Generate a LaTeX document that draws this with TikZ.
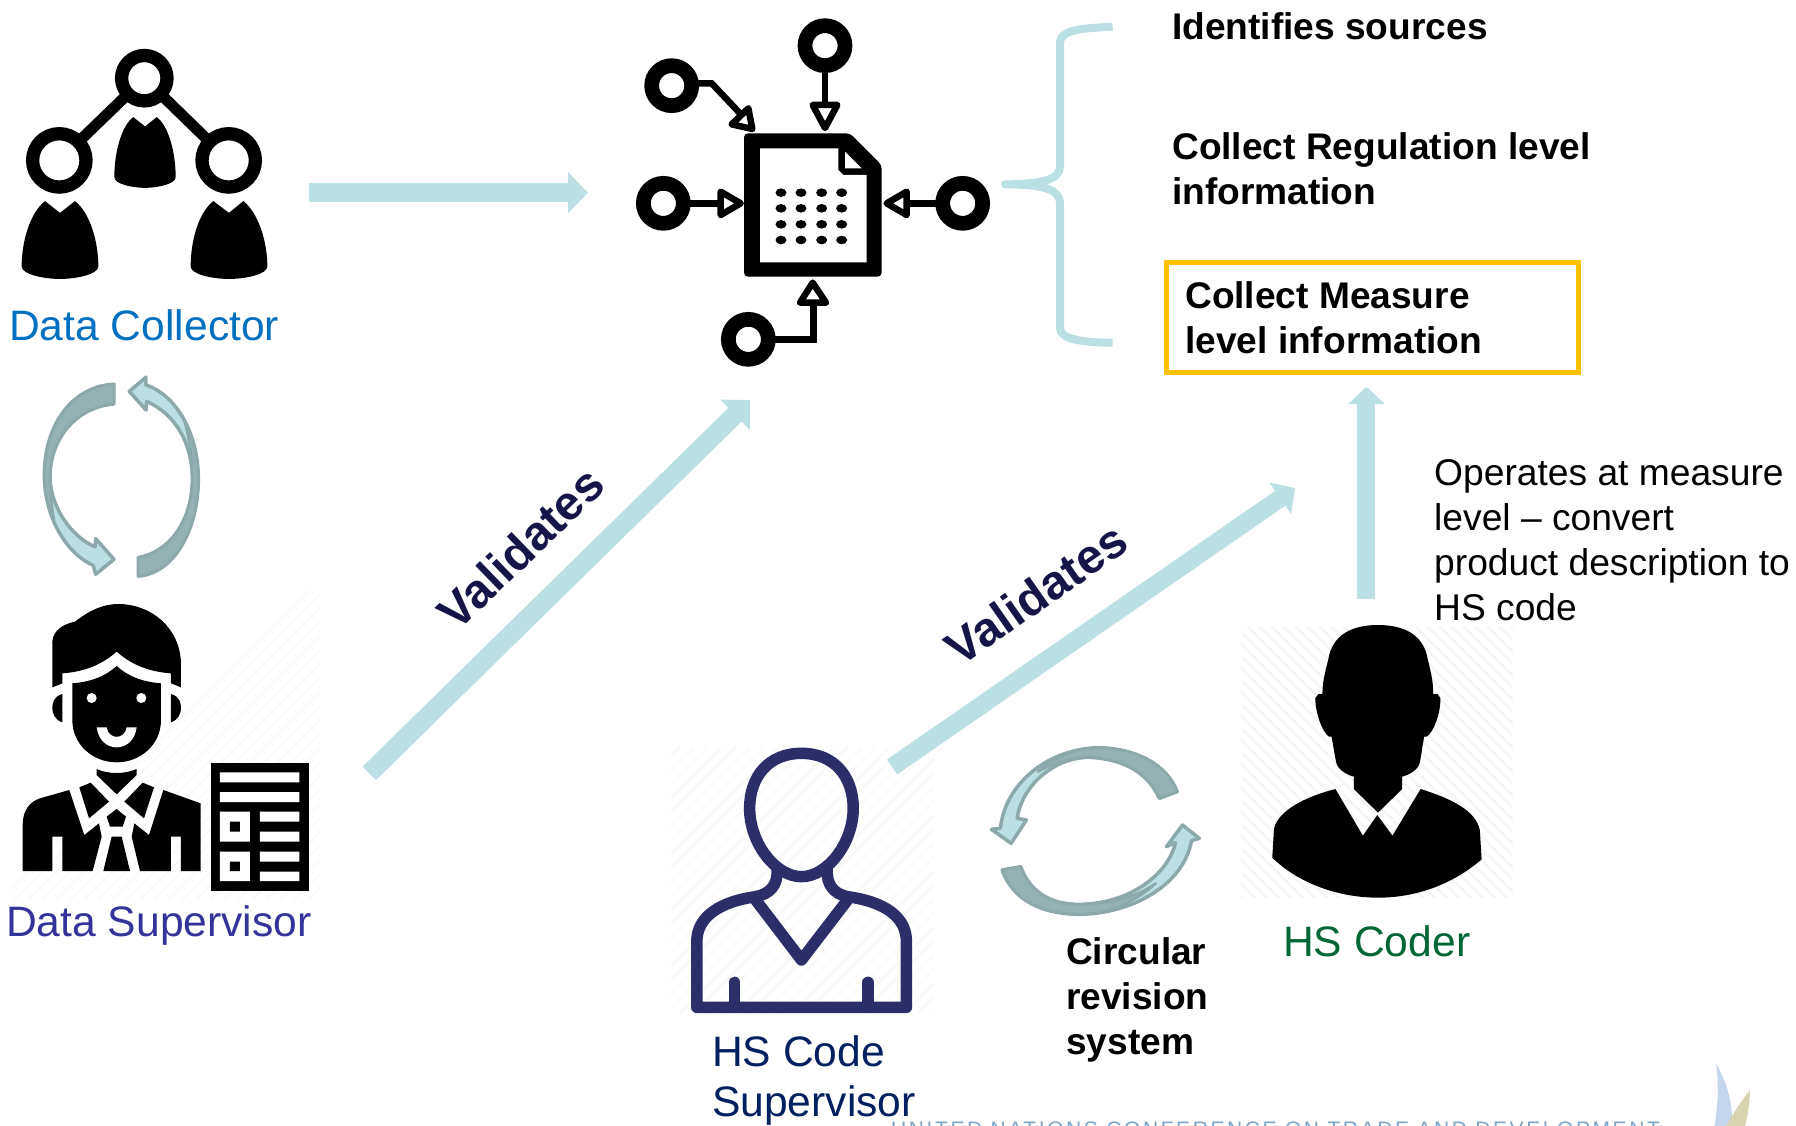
\documentclass[tikz,border=0pt]{standalone}
\usepackage{fontspec}
\setmainfont{Liberation Sans}
\usetikzlibrary{arrows.meta}
\definecolor{tealarrow}{HTML}{BBE0E3}
\definecolor{cycleedge}{HTML}{8CA8AB}
\definecolor{cycletail}{HTML}{95B1B4}
\definecolor{navyicon}{HTML}{2C2E69}
\definecolor{labelnavy}{HTML}{15154A}
\definecolor{hatchgrey}{HTML}{F6F6F6}
\tikzset{
  blockarrow/.style={draw=tealarrow,line width=#1},
  plain37/.style={inner sep=0pt,anchor=base west,align=left,font=\fontsize{37.2}{45}\selectfont},
  bold37/.style={inner sep=0pt,anchor=base west,align=left,font=\fontsize{37.1}{45}\selectfont\bfseries},
  role/.style={inner sep=0pt,anchor=base west,align=left,font=\fontsize{42.6}{50}\selectfont},
  validates/.style={inner sep=0pt,text=labelnavy,font=\fontsize{48}{50}\selectfont\bfseries},
  ring/.style={draw=black,fill=white,line width=#1},
  linkline/.style={draw=black,line width=6.5pt},
  opentri/.style={draw=black,fill=white,line width=6.5pt,line join=round},
  cyclebase/.style={fill=tealarrow,draw=cycleedge,line width=3.5pt,line join=round},
  cyclegrey/.style={fill=cycletail,draw=cycleedge,line width=2.5pt,line join=round},
  navyline/.style={draw=navyicon,line width=11.5pt,line cap=round,line join=round},
  zoomA/.style={shift={(0,20)},x=0.33333pt,y=-0.35714pt},
  zoomB/.style={shift={(0,580)},x=0.33333pt,y=-0.33333pt},
  zoomC/.style={shift={(620,0)},x=0.33333pt,y=-0.33333pt},
  zoomD/.style={shift={(670,720)},x=0.35714pt,y=-0.33333pt},
  zoomE/.style={shift={(1230,600)},x=0.36101pt,y=-0.33333pt},
}
\begin{document}
\begin{tikzpicture}[x=1pt,y=-1pt]
\useasboundingbox (0,0) rectangle (1796,1126);
\fill[white] (0,0) rectangle (1796,1126);
\begin{scope}
\clip (0,0) rectangle (1796,1126);

% faint hatching behind the portraits
\begin{scope}
\clip (10,590) rectangle (320,900);
\foreach \k in {0,14,...,640} \draw[hatchgrey,line width=1pt] (\k,900) -- ++(320,-320);
\end{scope}
\begin{scope}
\clip (670,747) rectangle (934,1013);
\foreach \k in {400,414,...,1000} \draw[hatchgrey,line width=1pt] (\k,1013) -- ++(280,-280);
\end{scope}
\begin{scope}
\clip (1241,627) rectangle (1513,897);
\foreach \k in {960,972,...,1520} \draw[hatchgrey,line width=2.5pt] (\k,627) -- ++(280,280);
\end{scope}

% Data Collector icon
\coordinate (ringT) at (144.3,78.2);
\coordinate (ringL) at (59.3,160.4);
\coordinate (ringR) at (228.7,160.4);
\draw[line width=11pt] (ringT) -- (ringL) (ringT) -- (ringR);
\draw[ring=13.3pt] (ringT) circle[radius=22.7pt];
\draw[ring=13.3pt] (ringL) circle[radius=26.7pt];
\draw[ring=13.3pt] (ringR) circle[radius=26.7pt];
\begin{scope}[zoomA]
\fill[black] (400,272) -- (435,298) -- (470,272) .. controls (505,295) and (527,370) .. (527,440) .. controls (527,460) and (470,470) .. (435,470) .. controls (400,470) and (343,460) .. (343,440) .. controls (343,370) and (365,295) .. (400,272) -- cycle;
\fill[black] (135,507) -- (180,540) -- (225,507) .. controls (270,540) and (295,620) .. (295,690) .. controls (295,712) and (230,725) .. (180,725) .. controls (130,725) and (65,712) .. (65,690) .. controls (65,620) and (90,540) .. (135,507) -- cycle;
\fill[black] (640,507) -- (687,540) -- (730,507) .. controls (775,540) and (802,620) .. (802,690) .. controls (802,712) and (737,725) .. (687,725) .. controls (637,725) and (572,712) .. (572,690) .. controls (572,620) and (595,540) .. (640,507) -- cycle;
% cycle arrows, left
\path[cyclebase] (342,1020) .. controls (220,1025) and (133,1130) .. (133,1275) .. controls (133,1380) and (190,1490) .. (280,1527) -- (287,1552) -- (342,1510) -- (287,1452) -- (285,1475) .. controls (220,1450) and (152,1370) .. (150,1280) .. controls (150,1180) and (220,1085) .. (342,1075) -- cycle;
\path[cyclegrey] (342,1020) .. controls (220,1025) and (133,1130) .. (133,1275) .. controls (133,1320) and (142,1360) .. (162,1400) .. controls (155,1360) and (150,1320) .. (150,1280) .. controls (150,1180) and (220,1085) .. (342,1075) -- cycle;
\path[cyclebase] (415,1505) .. controls (510,1490) and (577,1400) .. (577,1285) .. controls (577,1190) and (530,1105) .. (440,1068) -- (438,1092) -- (388,1040) -- (438,1000) -- (438,1022) .. controls (530,1050) and (595,1160) .. (595,1285) .. controls (595,1430) and (520,1550) .. (415,1557) -- cycle;
\path[cyclegrey] (415,1505) .. controls (510,1490) and (577,1400) .. (577,1285) .. controls (577,1230) and (568,1170) .. (553,1122) .. controls (580,1170) and (595,1220) .. (595,1285) .. controls (595,1430) and (520,1550) .. (415,1557) -- cycle;
\end{scope}

% Data Supervisor icon
\begin{scope}[zoomB]
\fill[black] (157,322) -- (157,185) .. controls (160,150) and (190,132) .. (225,125) .. controls (270,90) and (310,72) .. (355,72) .. controls (450,72) and (540,140) .. (543,250) -- (543,322) -- (513,310) -- (513,280) .. controls (440,275) and (390,250) .. (350,215) .. controls (310,250) and (260,275) .. (187,280) -- (187,310) -- cycle;
\fill[black] (217,310) .. controls (280,305) and (320,285) .. (350,258) .. controls (380,285) and (420,305) .. (483,310) -- (483,420) .. controls (483,495) and (420,547) .. (350,547) .. controls (280,547) and (217,495) .. (217,420) -- cycle;
\fill[black] (187,342) .. controls (160,350) and (157,370) .. (157,385) .. controls (157,400) and (165,420) .. (187,427) -- cycle;
\fill[black] (513,342) .. controls (540,350) and (543,370) .. (543,385) .. controls (543,400) and (535,420) .. (513,427) -- cycle;
\fill[white] (275,354) circle[radius=5pt] (424,354) circle[radius=5pt];
\fill[white] (290,442) -- (320,442) .. controls (325,480) and (375,480) .. (380,442) -- (410,442) .. controls (405,480) and (380,502) .. (350,502) .. controls (320,502) and (295,480) .. (290,442) -- cycle;
\fill[black] (290,567) .. controls (325,583) and (375,583) .. (410,567) -- (410,585) -- (350,643) -- (290,585) -- cycle;
\fill[black] (238,622) -- (272,608) -- (327,665) -- (267,715) -- cycle;
\fill[black] (462,622) -- (428,608) -- (373,665) -- (432,715) -- cycle;
\fill[black] (350,687) -- (378,710) -- (368,740) -- (330,740) -- (320,710) -- cycle;
\fill[black] (335,770) -- (365,770) -- (390,873) -- (310,873) -- cycle;
\fill[black] (68,873) -- (68,735) .. controls (68,690) and (90,665) .. (120,655) -- (208,630) -- (253,765) -- (297,730) -- (305,770) -- (278,873) -- (187,873) -- (187,770) -- (157,770) -- (157,873) -- cycle;
\fill[black] (602,873) -- (602,670) -- (490,630) -- (447,765) -- (403,730) -- (395,770) -- (420,873) -- (513,873) -- (513,770) -- (543,770) -- (543,873) -- cycle;
\fill[black] (632,548) rectangle (928,933);
\fill[white] (660,577) rectangle (898,607) (660,636) rectangle (898,666)
 (660,695) rectangle (750,785) (780,695) rectangle (898,725) (780,755) rectangle (898,785)
 (660,815) rectangle (750,903) (780,815) rectangle (898,845) (780,875) rectangle (898,903);
\fill[black] (690,725) rectangle (720,755) (690,845) rectangle (720,873);
\end{scope}

% central document icon
\begin{scope}[zoomC]
\draw[linkline] (615,137) -- (615,315);
\draw[linkline] (130,610) -- (298,610);
\draw[linkline] (1028,610) -- (862,610);
\draw[linkline] (385,1018) -- (580,1018) -- (580,915);
\draw[linkline] (155,250) -- (275,250) -- (360,340);
\draw[ring=14.7pt] (155,257) circle[radius=20pt];
\draw[ring=14.7pt] (615,137) circle[radius=20pt];
\draw[ring=14.7pt] (130,610) circle[radius=20pt];
\draw[ring=14.7pt] (1028,610) circle[radius=20pt];
\draw[ring=14.7pt] (385,1018) circle[radius=20pt];
\path[opentri] (578,315) -- (652,315) -- (615,384) -- cycle;
\path[opentri] (302,575) -- (302,645) -- (362,610) -- cycle;
\path[opentri] (860,575) -- (860,645) -- (800,610) -- cycle;
\path[opentri] (540,908) -- (618,908) -- (578,848) -- cycle;
\path[opentri] (385,325) -- (335,373) -- (397,387) -- cycle;
\fill[black,rounded corners=4pt] (372,400) -- (690,400) -- (785,495) -- (785,830) -- (372,830) -- cycle;
\fill[white] (420,445) -- (655,445) -- (655,510) -- (670,525) -- (740,525) -- (740,787) -- (420,787) -- cycle;
\fill[white] (675,455) -- (725,505) -- (675,505) -- cycle;
\foreach \dx in {483,543,605,665}
  \foreach \dy in {578,625,673,720}
    \fill[black] (\dx,\dy) ellipse[x radius=5.5pt,y radius=4.3pt];
% brace
\draw[tealarrow,line width=8pt,line join=round] (1478,80) .. controls (1400,85) and (1320,85) .. (1320,130) -- (1320,500) .. controls (1320,540) and (1260,553) .. (1155,553) .. controls (1260,553) and (1320,565) .. (1320,610) -- (1320,985) .. controls (1320,1020) and (1400,1028) .. (1478,1028);
\end{scope}

% HS Code Supervisor icon and cycle arrows
\begin{scope}[zoomD]
\path[navyline] (368,100) .. controls (460,100) and (513,170) .. (513,265) .. controls (513,370) and (440,470) .. (368,470) .. controls (296,470) and (223,370) .. (223,265) .. controls (223,170) and (276,100) .. (368,100) -- cycle;
\path[navyline] (300,450) .. controls (302,495) and (280,522) .. (240,530) .. controls (140,545) and (75,590) .. (75,665) -- (75,862) -- (662,862) -- (662,665) .. controls (662,590) and (600,545) .. (497,530) .. controls (460,522) and (438,495) .. (440,450);
\path[navyline] (240,540) -- (368,720) -- (497,540);
\path[navyline] (181,787) -- (181,862);
\path[navyline] (555,787) -- (555,862);
\path[cyclebase] (1420,215) .. controls (1390,130) and (1300,85) .. (1200,83) .. controls (1070,85) and (940,180) .. (925,325) -- (900,328) -- (955,370) -- (998,300) -- (972,295) .. controls (985,200) and (1070,115) .. (1170,112) .. controls (1270,115) and (1340,160) .. (1370,235) -- cycle;
\path[cyclegrey] (1420,215) .. controls (1390,130) and (1300,85) .. (1200,83) .. controls (1130,85) and (1070,115) .. (1030,155) .. controls (1075,130) and (1120,112) .. (1170,112) .. controls (1270,115) and (1340,160) .. (1370,235) -- cycle;
\path[cyclebase] (930,450) .. controls (960,540) and (1040,583) .. (1150,583) .. controls (1300,580) and (1440,490) .. (1460,362) -- (1482,355) -- (1435,315) -- (1390,380) -- (1415,368) .. controls (1400,450) and (1300,550) .. (1150,553) .. controls (1060,555) and (1005,510) .. (982,440) -- cycle;
\path[cyclegrey] (930,450) .. controls (960,540) and (1040,583) .. (1150,583) .. controls (1220,582) and (1300,550) .. (1360,490) .. controls (1310,530) and (1230,552) .. (1150,553) .. controls (1060,555) and (1005,510) .. (982,440) -- cycle;
\end{scope}

% HS Coder icon
\begin{scope}[zoomE]
\fill[black] (410,75) .. controls (500,75) and (540,120) .. (548,180) .. controls (558,220) and (563,250) .. (563,282) -- (575,282) -- (583,295) .. controls (583,340) and (565,395) .. (545,410) -- (538,410) .. controls (532,440) and (530,470) .. (525,490) .. controls (520,510) and (495,525) .. (477,530) -- (477,567) -- (410,638) -- (343,567) -- (343,530) .. controls (325,525) and (300,510) .. (295,490) .. controls (290,470) and (287,440) .. (281,410) -- (274,410) .. controls (255,395) and (237,340) .. (236,295) -- (245,282) -- (256,282) .. controls (256,250) and (262,220) .. (272,180) .. controls (280,120) and (320,75) .. (410,75) -- cycle;
\fill[black] (292,567) -- (368,707) -- (408,645) -- (450,707) -- (528,567) .. controls (610,595) and (680,630) .. (692,690) -- (697,778) .. controls (620,850) and (520,893) .. (410,893) .. controls (300,893) and (190,850) .. (117,773) -- (122,685) .. controls (135,630) and (210,590) .. (292,567) -- cycle;
\end{scope}

% connectors
\coordinate (collectorOut) at (309,192.7);
\coordinate (docIn) at (588,192.7);
\coordinate (supOut) at (369.3,773.3);
\coordinate (docInLow) at (750,400);
\coordinate (hsSupOut) at (892,767);
\coordinate (measureIn) at (1295,488);
\coordinate (coderOut) at (1366.4,598.7);
\coordinate (measureUp) at (1366.4,386.7);
\draw[blockarrow=19pt,-{Triangle[length=20pt,width=40pt]}] (collectorOut) -- (docIn);
\draw[blockarrow=19pt,-{Triangle[length=21pt,width=41pt]}] (supOut) -- (docInLow);
\draw[blockarrow=18pt,-{Triangle[length=18pt,width=37pt]}] (hsSupOut) -- (measureIn);
\draw[blockarrow=18pt,-{Triangle[length=17.5pt,width=36pt]}] (coderOut) -- (measureUp);

% texts
\node[role,text={rgb,255:red,0;green,112;blue,192}] (lblCollector) at (9,340) {Data Collector};
\node[role,text={rgb,255:red,51;green,51;blue,153}] (lblSupervisor) at (6,936) {Data Supervisor};
\node[role,text={rgb,255:red,0;green,102;blue,51}] (lblCoder) at (1283,956) {HS Coder};
\node[role,text={rgb,255:red,0;green,32;blue,96}] (lblHsSup) at (712,1116) {HS Code\\Supervisor};
\node[bold37] (txtSources) at (1172,39.5) {Identifies sources};
\node[bold37] (txtRegulation) at (1172,204.5) {Collect Regulation level\\information};
\node[draw={rgb,255:red,255;green,192;blue,0},line width=5pt,minimum width=412.5pt,minimum height=110pt,inner sep=0pt,outer sep=0pt,anchor=north west] (boxMeasure) at (1166,262.5) {};
\node[bold37] (txtMeasure) at (1185,353.3) {Collect Measure\\level information};
\node[bold37] (txtCircular) at (1066,1054) {Circular\\revision\\system};
\node[plain37] (txtOperates) at (1434,620) {Operates at measure\\level – convert\\product description to\\HS code};
\node[validates,rotate=44] (valA) at (520.5,548) {Validates};
\node[validates,rotate=35] (valB) at (1036,594) {Validates};

% footer strip
\node[inner sep=0pt,anchor=base west,text={rgb,255:red,125;green,165;blue,200},font=\fontsize{21}{25}\selectfont\addfontfeature{LetterSpace=12.3}] (footer) at (891,1136) {UNITED NATIONS CONFERENCE ON TRADE AND DEVELOPMENT};
\fill[fill={rgb,255:red,197;green,213;blue,236}] (1716,1063) .. controls (1728,1085) and (1733,1105) .. (1732,1126) -- (1714.5,1126) .. controls (1718,1105) and (1719,1085) .. (1716,1063) -- cycle;
\fill[fill={rgb,255:red,217;green,212;blue,176}] (1750,1090) .. controls (1750,1100) and (1748,1115) .. (1745,1126) -- (1726,1126) .. controls (1732,1115) and (1742,1100) .. (1750,1090) -- cycle;
\end{scope}
\end{tikzpicture}
\end{document}
